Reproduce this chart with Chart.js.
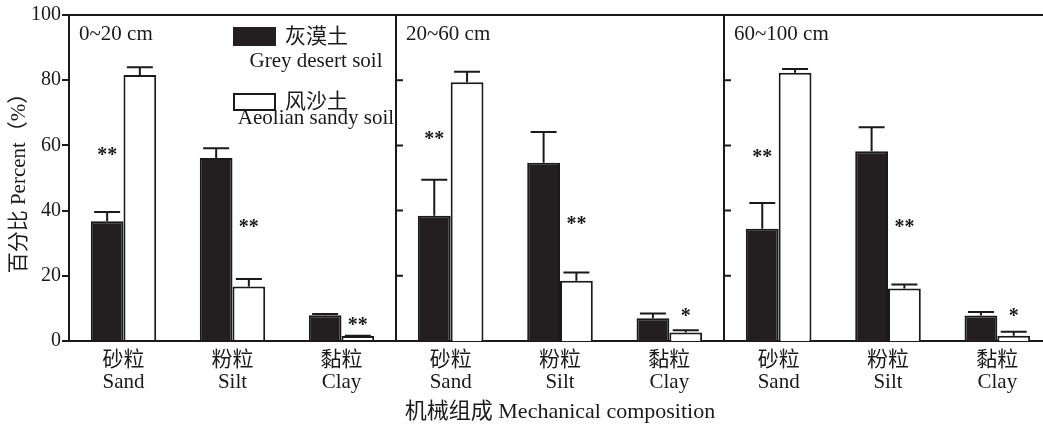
<!DOCTYPE html>
<html>
<head>
<meta charset="utf-8">
<script src="https://cdn.jsdelivr.net/npm/chart.js@4"></script>
<style>
  html, body { margin: 0; padding: 0; background: #fff; overflow: hidden; }
  #wrap { position: relative; width: 1043px; height: 434px; overflow: hidden; }
  .p { position: absolute; top: 0; height: 434px; }
</style>
</head>
<body>
<div id="wrap">
  <div class="p" style="left:0;width:396px"><canvas id="c0"></canvas></div>
  <div class="p" style="left:386px;width:338px"><canvas id="c1"></canvas></div>
  <div class="p" style="left:714px;width:338px"><canvas id="c2"></canvas></div>
</div>
<script>
// categories and panels
const categories = [['砂粒', 'Sand'], ['粉粒', 'Silt'], ['黏粒', 'Clay']];
const depths = ['0~20 cm', '20~60 cm', '60~100 cm'];
const soilNames = ['灰漠土', '风沙土'];
const soilNamesEn = ['Grey desert soil', 'Aeolian sandy soil'];
const yTicks = [0, 20, 40, 60, 80, 100];

// means and errors, one row per depth panel
const greyMean = [[36.7, 56.1, 7.9], [38.4, 54.7, 7.0], [34.4, 58.2, 7.8]];
const greyErr = [[2.9, 3.0, 0.4], [11.1, 9.4, 1.4], [7.9, 7.4, 1.1]];
const sandyMean = [[81.6, 16.7, 1.5], [79.4, 18.5, 2.6], [82.3, 16.1, 1.6]];
const sandyErr = [[2.4, 2.3, 0.1], [3.2, 2.5, 0.7], [1.1, 1.2, 1.2]];

// significance marks: text, which bar they sit over, and height
const sigText = [['**', '**', '**'], ['**', '**', '*'], ['**', '**', '*']];
const sigBar = [[0, 1, 1], [0, 1, 1], [0, 1, 1]];
const sigAt = [[58, 36, 6], [62.8, 36.9, 8.7], [57.4, 36, 8.7]];

const FONT = "'Liberation Serif', 'Noto Sans CJK SC', serif";
const INK = '#1a1a1a';

const decor = {
  id: 'decor',
  afterDatasetsDraw(chart) {
    const k = chart.options.panel;
    const ctx = chart.ctx;
    const a = chart.chartArea;
    const y = chart.scales.y;
    ctx.save();
    ctx.strokeStyle = INK;
    ctx.lineWidth = 2;

    // error bars
    chart.data.datasets.forEach((ds, i) => {
      chart.getDatasetMeta(i).data.forEach((bar, j) => {
        const top = y.getPixelForValue(ds.data[j]);
        const cap = y.getPixelForValue(ds.data[j] + ds.errs[j]);
        ctx.beginPath();
        ctx.moveTo(bar.x, top);
        ctx.lineTo(bar.x, cap);
        ctx.moveTo(bar.x - 13, cap);
        ctx.lineTo(bar.x + 13, cap);
        ctx.stroke();
      });
    });

    // top frame line
    ctx.beginPath();
    ctx.moveTo(a.left, a.top);
    ctx.lineTo(a.right + 2, a.top);
    ctx.stroke();

    // divider with inward ticks for panels 2 and 3
    if (k > 0) {
      ctx.beginPath();
      ctx.moveTo(a.left, a.top);
      ctx.lineTo(a.left, a.bottom);
      yTicks.forEach(v => {
        const py = y.getPixelForValue(v);
        ctx.moveTo(a.left, py);
        ctx.lineTo(a.left + 7, py);
      });
      ctx.stroke();
    }

    ctx.fillStyle = INK;
    ctx.textBaseline = 'middle';

    // significance marks (glyph sits high in its box, so nudge down)
    ctx.textAlign = 'center';
    ctx.font = 'bold 20px ' + FONT;
    sigText[k].forEach((t, j) => {
      const bar = chart.getDatasetMeta(sigBar[k][j]).data[j];
      ctx.fillText(t, bar.x, y.getPixelForValue(sigAt[k][j]) + 4);
    });

    // depth label
    ctx.textAlign = 'left';
    ctx.font = '21px ' + FONT;
    ctx.fillText(depths[k], a.left + 10, 34);

    // legend in first panel
    if (k === 0) {
      const ds = chart.data.datasets;
      ctx.fillStyle = ds[0].backgroundColor;
      ctx.fillRect(233, 27, 43, 19);
      ctx.fillStyle = ds[1].backgroundColor;
      ctx.fillRect(234, 94, 41, 16);
      ctx.strokeRect(234, 94, 41, 16);
      ctx.fillStyle = INK;
      ctx.font = '21px ' + FONT;
      ctx.fillText(soilNames[0], 285, 37);
      ctx.fillText(soilNames[1], 285, 102);
      ctx.textAlign = 'center';
      ctx.fillText(soilNamesEn[0], 316, 61);
      ctx.fillText(soilNamesEn[1], 316, 118);
    }
    ctx.restore();
  }
};

function makeChart(k) {
  const first = k === 0;
  return new Chart(document.getElementById('c' + k), {
    type: 'bar',
    data: {
      labels: categories,
      datasets: [
        { label: soilNames[0], data: greyMean[k], errs: greyErr[k],
          backgroundColor: '#231f20', borderColor: INK, borderWidth: 2,
          categoryPercentage: 0.6, barPercentage: 1.0 },
        { label: soilNames[1], data: sandyMean[k], errs: sandyErr[k],
          backgroundColor: '#ffffff', borderColor: INK, borderWidth: 2,
          categoryPercentage: 0.6, barPercentage: 1.0 }
      ]
    },
    options: {
      panel: k,
      responsive: true,
      maintainAspectRatio: false,
      animation: false,
      layout: { padding: { top: 15, left: first ? 0 : 10, right: 0, bottom: 0 } },
      plugins: { legend: { display: false }, tooltip: { enabled: false } },
      scales: {
        x: {
          grid: { display: false, drawTicks: false },
          border: { display: true, color: INK, width: 2 },
          ticks: { color: INK, font: { family: FONT, size: 21, lineHeight: 1.05 },
                   padding: 8, maxRotation: 0, autoSkip: false },
          title: { display: k === 1, text: '机械组成 Mechanical composition', color: INK,
                   font: { family: FONT, size: 22 }, padding: { top: 0, bottom: 9 } },
          afterFit: s => { s.height = 93; }
        },
        y: {
          display: first,
          min: 0,
          max: 100,
          ticks: { stepSize: 20, color: INK, font: { family: FONT, size: 20 }, padding: 1 },
          grid: { drawOnChartArea: false, tickLength: 7, color: INK, lineWidth: 2 },
          border: { color: INK, width: 2 },
          title: { display: true, text: '百分比 Percent（%）', color: INK,
                   font: { family: FONT, size: 21 }, padding: { top: 7, bottom: 0 } },
          afterFit: s => { s.width = first ? 69 : 0; }
        }
      }
    },
    plugins: [decor]
  });
}

[0, 1, 2].forEach(makeChart);
</script>
</body>
</html>
